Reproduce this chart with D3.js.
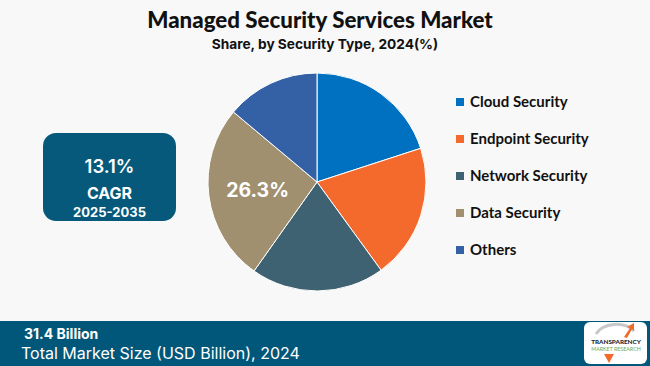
<!DOCTYPE html>
<html><head><meta charset="utf-8">
<script src="https://cdn.jsdelivr.net/npm/d3@7"></script>
<style>html,body{margin:0;padding:0;background:#F8F8F8;}svg{display:block;}</style>
</head><body>
<svg id="c" width="650" height="366"></svg>
<script>
const categories = ["Cloud Security","Endpoint Security","Network Security","Data Security","Others"];
const shares = [20.0, 20.0, 19.8, 26.3, 13.9];
const colors = ["#0070C0","#F4692C","#3E6272","#A09070","#3461A6"];
const labelShown = [false,false,false,true,false];
const title = "Managed Security Services Market";
const subtitle = "Share, by Security Type, 2024(%)";
const cagrLines = ["13.1%","CAGR","2025-2035"];
const marketValue = "31.4 Billion";
const marketLabel = "Total Market Size (USD Billion), 2024";

const svg = d3.select("#c");
svg.append("rect").attr("width",650).attr("height",366).attr("fill","#F8F8F8");

const ff = "Lato, 'Open Sans', sans-serif";
const fg = "'Century Gothic','URW Gothic','Inter', 'Noto Sans', sans-serif";

svg.append("text").attr("x",320).attr("y",28).attr("text-anchor","middle")
  .attr("font-family",ff).attr("font-weight",900).attr("font-size",22.3).attr("fill","#111").text(title);
svg.append("text").attr("x",325).attr("y",49).attr("text-anchor","middle")
  .attr("font-family",fg).attr("font-weight",700).attr("font-size",13.7).attr("fill","#111").text(subtitle);

// pie
const cx = 317, cy = 182, R = 109;
const pie = d3.pie().sort(null).value(d=>d)(shares);
const arc = d3.arc().innerRadius(0).outerRadius(R);
const g = svg.append("g").attr("transform",`translate(${cx},${cy})`);
g.selectAll("path").data(pie).join("path").attr("d",arc)
  .attr("fill",(d,i)=>colors[i]).attr("stroke","#fff").attr("stroke-width",1);
const lab = d3.arc().innerRadius(R*0.55).outerRadius(R*0.55);
g.selectAll("text.pl").data(pie.filter((d,i)=>labelShown[i])).join("text")
  .attr("class","pl")
  .attr("transform",d=>{const c=lab.centroid(d);return `translate(${c[0]},${c[1]})`;})
  .attr("text-anchor","middle").attr("dy","0.36em")
  .attr("font-family",fg).attr("font-weight",700).attr("font-size",19.5).attr("fill","#fff")
  .text(d=>d.data.toFixed(1)+"%");

// legend
const lg = svg.append("g");
const ly = d3.scalePoint().domain(categories).range([102,250]);
categories.forEach((c,i)=>{
  lg.append("rect").attr("x",456).attr("y",ly(c)-4).attr("width",8).attr("height",8).attr("fill",colors[i]);
  lg.append("text").attr("x",470).attr("y",ly(c)).attr("dy","0.35em")
    .attr("font-family",ff).attr("font-weight",700).attr("font-size",15).attr("fill","#111").text(c);
});

// CAGR box
svg.append("rect").attr("x",43).attr("y",133).attr("width",133).attr("height",88).attr("rx",13)
  .attr("fill","#06597B");
const bx = 109.5;
svg.append("text").attr("x",bx).attr("y",173).attr("text-anchor","middle").attr("font-family",fg)
  .attr("font-weight",600).attr("font-size",18.5).attr("fill","#fff").text(cagrLines[0]);
svg.append("text").attr("x",bx).attr("y",199).attr("text-anchor","middle").attr("font-family",fg)
  .attr("font-weight",700).attr("font-size",16).attr("fill","#fff").text(cagrLines[1]);
svg.append("text").attr("x",bx).attr("y",217).attr("text-anchor","middle").attr("font-family",fg)
  .attr("font-weight",700).attr("font-size",13).attr("fill","#fff").text(cagrLines[2]);

// bottom bar
svg.append("rect").attr("x",0).attr("y",321).attr("width",650).attr("height",45).attr("fill","#01577A");
svg.append("text").attr("x",24).attr("y",339).attr("font-family",fg).attr("font-weight",700)
  .attr("font-size",14).attr("fill","#fff").text(marketValue);
svg.append("text").attr("x",21).attr("y",359).attr("font-family",fg).attr("font-weight",400)
  .attr("font-size",16).attr("fill","#fff").text(marketLabel);

// logo
const lo = svg.append("g").attr("transform","translate(584,322)");
lo.append("rect").attr("width",63).attr("height",42).attr("rx",6).attr("fill","#fff");
lo.append("path").attr("d","M12,12 A22,16 0 0 1 50,9").attr("fill","none").attr("stroke","#C8C8C8").attr("stroke-width",3);
lo.append("path").attr("d","M40,15 L46,6 L43,5 L50,1 L50,9 L48,7 L43,16 Z").attr("fill","#F26A2A");
lo.append("text").attr("x",32).attr("y",22).attr("text-anchor","middle").attr("font-family",ff)
  .attr("font-weight",900).attr("font-size",6.3).attr("fill","#1a2a3a").text("TRANSPARENCY");
lo.append("text").attr("x",32).attr("y",29).attr("text-anchor","middle").attr("font-family",ff)
  .attr("font-weight",400).attr("font-size",5.3).attr("fill","#6aa84f").text("MARKET RESEARCH");
lo.append("path").attr("d","M20,32 L30,32 L25,41 Z").attr("fill","#F26A2A");
</script>
</body></html>
